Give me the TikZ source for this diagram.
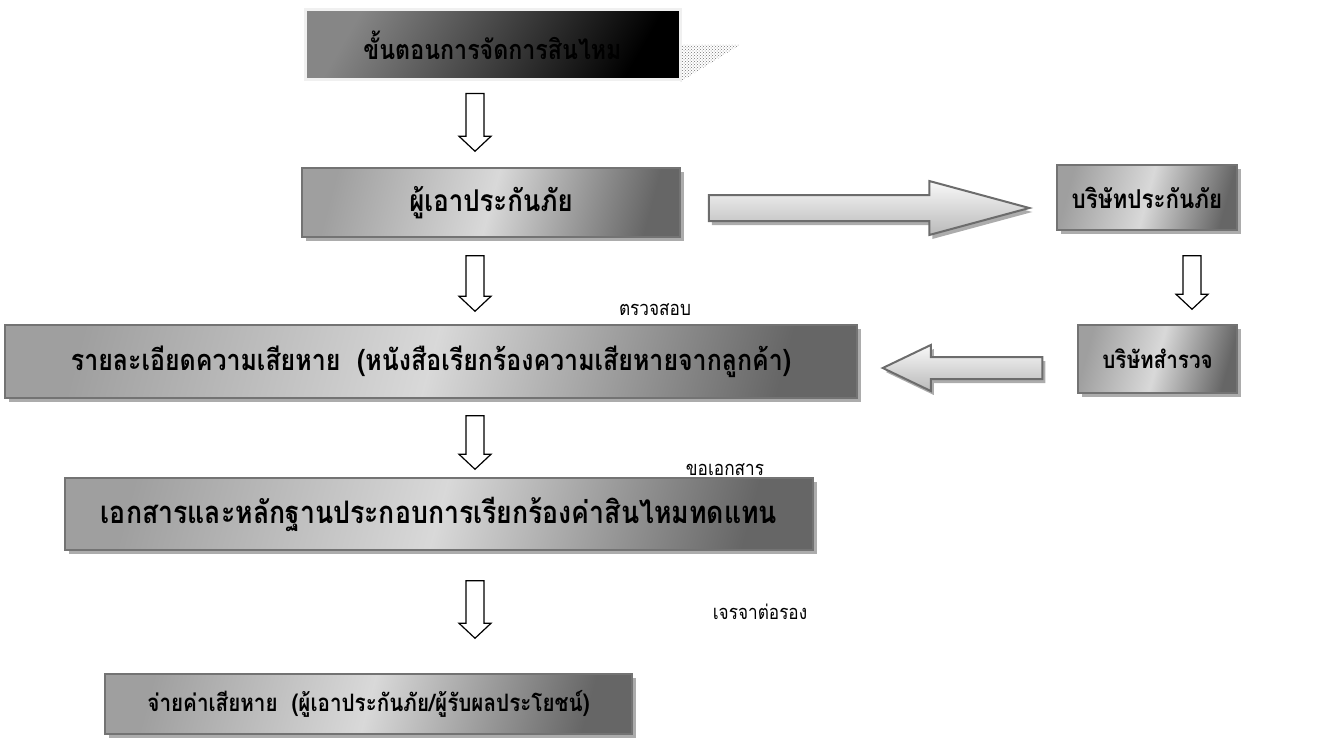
\documentclass[tikz,border=0pt]{standalone}
\usepackage{fontspec}
\newfontfamily\thaifont[Script=Thai, FakeStretch=0.86]{Loma}
\usetikzlibrary{positioning,calc,shadows,patterns}
\tikzset{
  titlebox/.style={draw=gray!12, line width=3pt, inner sep=0, minimum width=375pt, minimum height=70pt,
    left color=gray!95, right color=black, shading angle=60,
    font=\thaifont\bfseries\fontsize{27}{30}\selectfont},
  stepbox/.style={draw=gray!90!black, line width=1.5pt, inner sep=0,
    left color=gray!75, right color=black!60, middle color=gray!30, shading angle=75,
    drop shadow={shadow xshift=4pt, shadow yshift=-4pt, fill=gray!65, opacity=1},
    font=\thaifont\bfseries\fontsize{#1}{#1}\selectfont},
  stepbox/.default=27,
  note/.style={font=\thaifont\fontsize{20}{22}\selectfont},
  downblock/.style={draw=black, line width=1.2pt, fill=white,
    to path={let \p1=(\tikztostart), \p2=(\tikztotarget) in
      (\x1-9pt,\y1) -- (\x1+9pt,\y1) -- (\x1+9pt,\y2+15pt) -- (\x1+16pt,\y2+15pt)
      -- (\x1,\y2) -- (\x1-16pt,\y2+15pt) -- (\x1-9pt,\y2+15pt) -- cycle}},
  sideblock/.style n args={3}{draw=gray!85!black, line width=2pt,
    top color=gray!5, bottom color=gray!55,
    drop shadow={shadow xshift=3pt, shadow yshift=-4pt, fill=gray!65, opacity=1},
    to path={let \p1=(\tikztostart), \p2=(\tikztotarget) in
      ({\x1},{\y1+#1}) -- ({\x2-(#3)},{\y1+#1}) -- ({\x2-(#3)},{\y1+#2}) -- (\x2,\y1)
      -- ({\x2-(#3)},{\y1-#2}) -- ({\x2-(#3)},{\y1-#1}) -- ({\x1},{\y1-#1}) -- cycle}},
}
\begin{document}
\begin{tikzpicture}[x=1pt,y=1pt]
    \useasboundingbox (0,0) rectangle (1329,-738);
    \coordinate (col) at (475,0);
    \coordinate (col2) at (1192,0);

    \fill[pattern=crosshatch dots, pattern color=gray!90!black] (680,-45) -- (740,-45) -- (680,-82) -- cycle;
    \node[titlebox] (title) at (492.5,-45) {ขั้นตอนการจัดการสินไหม};
    \node[stepbox=30, minimum width=378pt, minimum height=69pt] (insured) at (491,-202.5) {ผู้เอาประกันภัย};
    \node[stepbox=26, minimum width=180pt, minimum height=65pt] (company) at (1147,-197.5) {บริษัทประกันภัย};
    \node[stepbox=24, minimum width=159pt, minimum height=68pt] (survey) at (1157.5,-359) {บริษัทสำรวจ};
    \node[stepbox=29, minimum width=852pt, minimum height=73pt] (detail) at (431,-361.5) {รายละเอียดความเสียหาย~~(หนังสือเรียกร้องความเสียหายจากลูกค้า)};
    \node[stepbox=31, minimum width=748pt, minimum height=72pt] (docs) at (439,-514) {เอกสารและหลักฐานประกอบการเรียกร้องค่าสินไหมทดแทน};
    \node[stepbox=24, minimum width=527pt, minimum height=60pt] (payout) at (368.5,-704) {จ่ายค่าเสียหาย~~(ผู้เอาประกันภัย/ผู้รับผลประโยชน์)};

    \path[downblock] ($(title.south -| col)+(0,-12)$) to ($(insured.north -| col)+(0,16)$);
    \path[downblock] ($(insured.south -| col)+(0,-18)$) to ($(detail.north -| col)+(0,13)$);
    \path[downblock] ($(company.south -| col2)+(0,-25)$) to ($(survey.north -| col2)+(0,15)$);
    \path[downblock] ($(detail.south -| col)+(0,-17)$) to ($(docs.north -| col)+(0,8)$);
    \path[downblock] ($(docs.south -| col)+(0,-30)$) to ($(payout.north -| col)+(0,35)$);
    \path[sideblock={13pt}{27pt}{100pt}] ($(insured.east)+(28,-5.5)$) to ($(company.west)+(-27,-10.5)$);
    \path[sideblock={11pt}{23pt}{-48pt}] ($(survey.west)+(-35,-9)$) to ($(detail.east)+(25,-6.5)$);

    \node[note] (check) at (655,-310) {ตรวจสอบ};
    \node[note] (askdoc) at (725,-470) {ขอเอกสาร};
    \node[note] (nego) at (760,-612) {เจรจาต่อรอง};
\end{tikzpicture}
\end{document}
